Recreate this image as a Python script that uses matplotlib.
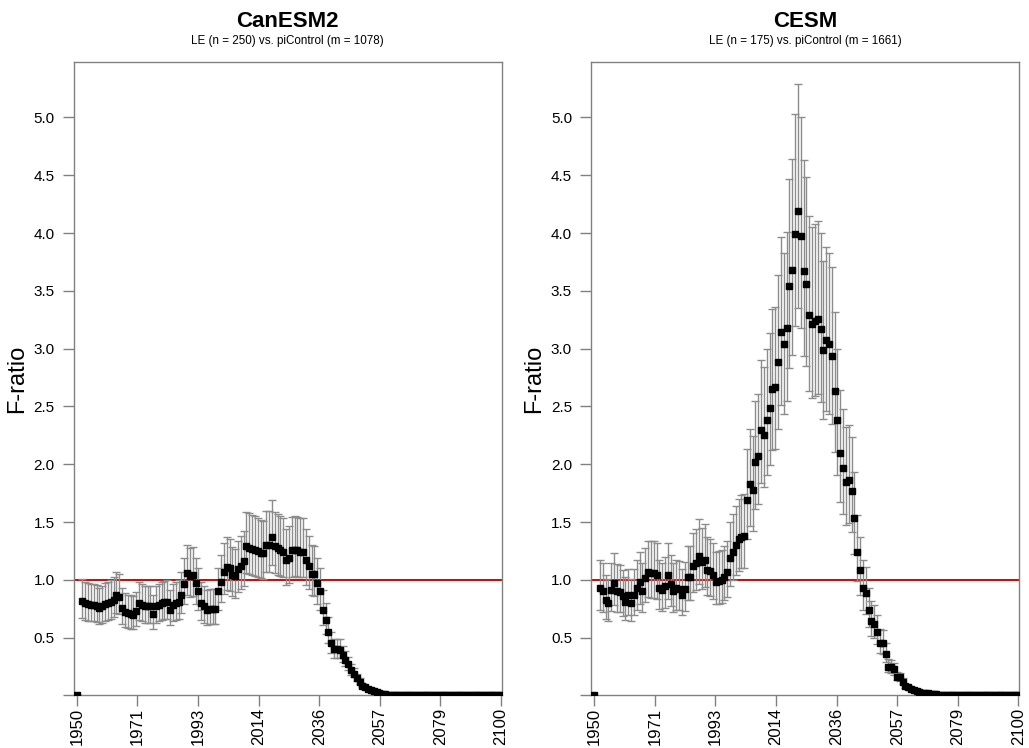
#!/usr/bin/env python3
"""
F-ratio of large-ensemble variance vs. piControl variance, CanESM2 and CESM.
"""

import matplotlib
matplotlib.use("Agg")
import matplotlib.pyplot as plt
from matplotlib import font_manager
import numpy as np

plt.rcParams["font.family"] = ["Liberation Sans", "DejaVu Sans"]

YEARS = np.arange(1950, 2101)

# F-ratio per year (1951 has no value)
CANESM2_F = [
    0.0, np.nan,
    0.82, 0.80, 0.79, 0.785, 0.785, 0.775, 0.755, 0.77, 0.79, 0.80,
    0.81, 0.83, 0.87, 0.855, 0.755, 0.72, 0.71, 0.705, 0.70, 0.73,
    0.80, 0.785, 0.77, 0.77, 0.77, 0.705, 0.77, 0.785, 0.80, 0.805,
    0.81, 0.74, 0.785, 0.80, 0.81, 0.87, 0.965, 1.06, 1.035, 1.045,
    0.97, 0.90, 0.80, 0.77, 0.74, 0.75, 0.75, 0.75, 0.90, 0.985,
    1.07, 1.115, 1.10, 1.045, 1.03, 1.09, 1.12, 1.16, 1.29, 1.28,
    1.27, 1.26, 1.25, 1.235, 1.23, 1.30, 1.30, 1.375, 1.29, 1.275,
    1.26, 1.245, 1.17, 1.19, 1.255, 1.26, 1.255, 1.245, 1.245, 1.17,
    1.12, 1.055, 1.05, 0.97, 0.90, 0.74, 0.65, 0.55, 0.45, 0.40,
    0.40, 0.395, 0.35, 0.31, 0.27, 0.22, 0.19, 0.15, 0.12, 0.085,
    0.07, 0.06, 0.05, 0.04, 0.03, 0.02, 0.012, 0.01, 0.008, 0.007,
    0.006, 0.005, 0.005, 0.004, 0.004, 0.004, 0.003, 0.003, 0.003, 0.003,
    0.002, 0.002, 0.002, 0.002, 0.002, 0.002, 0.002, 0.002, 0.002, 0.002,
    0.002, 0.002, 0.002, 0.002, 0.001, 0.001, 0.001, 0.001, 0.001, 0.001,
    0.001, 0.001, 0.001, 0.001, 0.001, 0.001, 0.001, 0.001, 0.001,
]

CESM_F = [
    0.0, np.nan,
    0.927, 0.907, 0.826, 0.802, 0.913, 0.977, 0.904, 0.898, 0.863, 0.811,
    0.869, 0.802, 0.866, 0.927, 0.985, 0.907, 1.015, 1.064, 1.058, 1.058,
    1.044, 0.93, 0.913, 0.948, 1.044, 0.965, 0.907, 0.927, 0.922, 0.869,
    0.919, 1.029, 1.029, 1.116, 1.145, 1.209, 1.151, 1.174, 1.087, 1.073,
    1.044, 0.985, 0.99, 1.0, 1.029, 1.064, 1.189, 1.245, 1.30, 1.35,
    1.375, 1.38, 1.69, 1.83, 1.78, 2.02, 2.07, 2.30, 2.255, 2.38,
    2.487, 2.651, 2.668, 2.885, 3.145, 3.04, 3.179, 3.545, 3.684, 3.993,
    4.195, 3.973, 3.675, 3.563, 3.289, 3.214, 3.237, 3.257, 3.173, 2.986,
    3.078, 3.04, 2.94, 2.636, 2.38, 2.097, 1.967, 1.846, 1.86, 1.773,
    1.534, 1.24, 1.087, 0.928, 0.885, 0.74, 0.648, 0.619, 0.553, 0.457,
    0.452, 0.359, 0.249, 0.244, 0.226, 0.163, 0.157, 0.12, 0.082, 0.07,
    0.06, 0.047, 0.04, 0.032, 0.025, 0.02, 0.018, 0.014, 0.011, 0.009,
    0.008, 0.007, 0.006, 0.005, 0.005, 0.004, 0.004, 0.003, 0.003, 0.003,
    0.003, 0.002, 0.002, 0.002, 0.002, 0.002, 0.002, 0.002, 0.002, 0.002,
    0.002, 0.002, 0.002, 0.001, 0.001, 0.001, 0.001, 0.001, 0.001,
]

CI_FACTORS = {"CanESM2": (0.82, 1.23), "CESM": (0.80, 1.26)}

PANELS = [
    ("CanESM2", "LE (n = 250) vs. piControl (m = 1078)", CANESM2_F),
    ("CESM", "LE (n = 175) vs. piControl (m = 1661)", CESM_F),
]

XTICKS = np.linspace(1950, 2100, 8)
YTICKS = np.arange(0, 5.01, 0.5)

# the subtitle in the original is set in a condensed face
_names = {f.name for f in font_manager.fontManager.ttflist}
if "Liberation Sans Narrow" in _names:
    SUB_FONT, SUB_SIZE = ["Liberation Sans Narrow", "DejaVu Sans"], 10.5
else:
    SUB_FONT, SUB_SIZE = ["Liberation Sans", "DejaVu Sans"], 8.4


def draw_panel(ax, name, subtitle, values):
    f = np.asarray(values, dtype=float)
    lo_fac, hi_fac = CI_FACTORS[name]
    yerr = np.vstack([f - f * lo_fac, f * hi_fac - f])

    ax.axhline(1.0, color="#e00000", linewidth=1.4, zorder=1)
    _, caps, bars = ax.errorbar(
        YEARS, f, yerr=yerr, fmt="s", color="black", markersize=4.6,
        ecolor="#8c8c8c", elinewidth=1.0, capsize=3, capthick=1.0, zorder=3,
    )
    for c in caps:
        c.set_color("#454545")

    ax.set_xlim(1949, 2100.2)
    ax.set_ylim(0, 5.48)
    ax.set_xticks(XTICKS)
    ax.set_xticklabels([f"{int(round(t))}" for t in XTICKS], rotation=90,
                       fontsize=12)
    ax.set_yticks(YTICKS)
    ax.set_yticklabels(["" if t == 0 else f"{t:.1f}" for t in YTICKS],
                       fontsize=11)
    ax.tick_params(direction="out", length=8, width=1, color="#808080")
    ax.tick_params(axis="y", pad=6)
    ax.tick_params(axis="x", pad=1)
    for sp in ax.spines.values():
        sp.set_color("#808080")
        sp.set_linewidth(1.0)

    ax.set_ylabel("F-ratio", fontsize=17)
    ax.yaxis.set_label_coords(-0.108, 0.5)
    ax.text(0.5, 0.0555 + 1, name, transform=ax.transAxes, ha="center",
            va="baseline", fontsize=16, fontweight="bold")
    ax.text(0.5, 0.0285 + 1, subtitle, transform=ax.transAxes, ha="center",
            va="baseline", fontsize=SUB_SIZE, family=SUB_FONT)


def main():
    fig = plt.figure(figsize=(10.29, 7.48), dpi=100)
    ax1 = fig.add_axes([0.0719, 0.0702, 0.4155, 0.8469])
    ax2 = fig.add_axes([0.5748, 0.0702, 0.4155, 0.8469])

    for ax, (name, subtitle, values) in zip([ax1, ax2], PANELS):
        draw_panel(ax, name, subtitle, values)

    fig.savefig("out.png", dpi=100, facecolor="white")


if __name__ == "__main__":
    main()
